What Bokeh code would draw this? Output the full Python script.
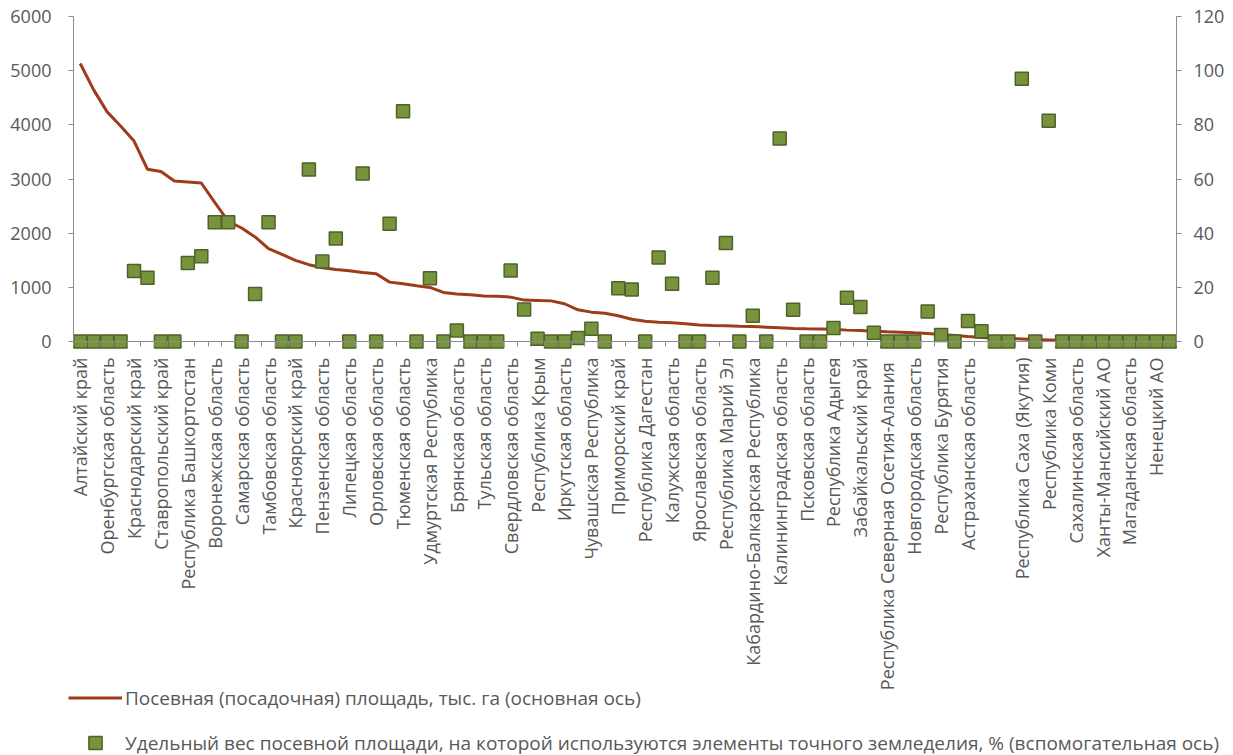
import math
from bokeh.plotting import figure
from bokeh.models import Range1d, LinearAxis, FixedTicker, Legend, LegendItem
from bokeh.embed import file_html
from bokeh.resources import INLINE

# Every other category label (as shown on the axis); hidden ones are not displayed
label_names = [
    "Алтайский край", "Оренбургская область", "Краснодарский край", "Ставропольский край",
    "Республика Башкортостан", "Воронежская область", "Самарская область", "Тамбовская область",
    "Красноярский край", "Пензенская область", "Липецкая область", "Орловская область",
    "Тюменская область", "Удмуртская Республика", "Брянская область", "Тульская область",
    "Свердловская область", "Республика Крым", "Иркутская область", "Чувашская Республика",
    "Приморский край", "Республика Дагестан", "Калужская область", "Ярославская область",
    "Республика Марий Эл", "Кабардино-Балкарская Республика", "Калининградская область",
    "Псковская область", "Республика Адыгея", "Забайкальский край",
    "Республика Северная  Осетия-Алания", "Новгородская область", "Республика Бурятия",
    "Астраханская область", "", "Республика Саха (Якутия)", "Республика Коми",
    "Сахалинская область", "Ханты-Мансийский АО", "Магаданская область", "Ненецкий АО",
]

# Посевная (посадочная) площадь, тыс. га
area = [
    5133, 4645, 4239, 3980, 3700, 3180, 3140, 2963, 2945, 2926,
    2570, 2220, 2095, 1930, 1715, 1608, 1497, 1418, 1362, 1331,
    1306, 1275, 1251, 1096, 1066, 1029, 998, 906, 875, 863,
    838, 836, 819, 764, 758, 750, 697, 586, 542, 523,
    475, 412, 375, 357, 345, 327, 305, 296, 290, 283,
    277, 265, 253, 240, 234, 232, 228, 210, 203, 191,
    179, 173, 160, 148, 129, 111, 92, 74, 62, 55,
    48, 38, 30, 22, 15, 10, 6, 4, 2, 1,
    0.5, 0.2,
]

# Удельный вес посевной площади с элементами точного земледелия, %
share = [
    0, 0, 0, 0, 26, 23.5, 0, 0, 29, 31.5,
    44, 44, 0, 17.5, 44, 0, 0, 63.5, 29.5, 38,
    0, 62, 0, 43.5, 85, 0, 23.4, 0, 4.1, 0,
    0, 0, 26.2, 11.8, 1.0, 0, 0, 1.3, 4.7, 0,
    19.7, 19.2, 0, 31, 21.3, 0, 0, 23.5, 36.4, 0,
    9.5, 0, 75, 11.7, 0, 0, 5, 16.2, 12.7, 3.2,
    0, 0, 0, 11.1, 2.4, 0, 7.6, 3.8, 0, 0,
    97, 0, 81.5, 0, 0, 0, 0, 0, 0, 0,
    0, 0,
]

y_ticks = [0, 1000, 2000, 3000, 4000, 5000, 6000]
pct_ticks = [0, 20, 40, 60, 80, 100, 120]

line_label = "Посевная (посадочная) площадь, тыс. га (основная ось)"
marker_label = ("Удельный вес посевной площади, на которой используются элементы "
                "точного земледелия, % (вспомогательная ось)")

n = len(area)
xs = list(range(n))

FONT = "Open Sans"
TXT = "#595959"
AX = "#8C8C8C"
FS = "18px"

W, H = 1233, 755
LEFT, RIGHT = 73, 1176   # pixel columns of the two value axes
TOP, ZERO = 16, 341      # pixel rows of the top gridline and of the zero line

px_per_cat = (RIGHT - LEFT) / n
x_low = -0.5 - LEFT / px_per_cat
x_high = n - 0.5 + (W - RIGHT) / px_per_cat
px_per_unit = (ZERO - TOP) / 6000.0
y_low = -(H - ZERO) / px_per_unit
y_high = 6000 + TOP / px_per_unit

p = figure(width=W, height=H, output_backend="svg", toolbar_location=None,
           x_range=Range1d(x_low, x_high), y_range=Range1d(y_low, y_high),
           min_border=0, min_border_left=0, min_border_right=0,
           min_border_top=0, min_border_bottom=0)
p.extra_y_ranges = {"pct": Range1d(y_low * 120 / 6000, y_high * 120 / 6000)}
p.outline_line_color = None
p.xgrid.visible = False
p.ygrid.visible = False
p.background_fill_color = "white"
p.border_fill_color = "white"

xa = p.xaxis[0]
xa.ticker = FixedTicker(ticks=list(range(0, n, 2)),
                        minor_ticks=[i - 0.5 for i in range(n + 1)])
xa.major_label_overrides = {i: label_names[i // 2] for i in range(0, n, 2)}
xa.major_label_orientation = math.pi / 2
xa.fixed_location = 0
xa.bounds = (-0.5, n - 0.5)
xa.major_tick_line_color = None
xa.major_tick_in = 0
xa.major_tick_out = 0
xa.minor_tick_in = 0
xa.minor_tick_out = 5
xa.minor_tick_line_color = AX
xa.axis_line_color = AX
xa.major_label_standoff = 11
xa.major_label_text_font = FONT
xa.major_label_text_font_size = FS
xa.major_label_text_color = TXT

ya = p.yaxis[0]
ya.ticker = FixedTicker(ticks=y_ticks)
ya.bounds = (0, 6000)
ya.fixed_location = -0.5
ya.major_tick_in = 0
ya.major_tick_out = 5
ya.minor_tick_line_color = None
ya.major_tick_line_color = AX
ya.axis_line_color = AX
ya.major_label_standoff = 17
ya.major_label_text_font = FONT
ya.major_label_text_font_size = FS
ya.major_label_text_color = TXT

ra = LinearAxis(y_range_name="pct", ticker=FixedTicker(ticks=pct_ticks), bounds=(0, 120))
ra.fixed_location = n - 0.5
ra.major_tick_in = 0
ra.major_tick_out = 5
ra.minor_tick_line_color = None
ra.major_tick_line_color = AX
ra.axis_line_color = AX
ra.major_label_standoff = 12
ra.major_label_text_font = FONT
ra.major_label_text_font_size = FS
ra.major_label_text_color = TXT
p.add_layout(ra, "right")

r1 = p.line(xs, area, line_color="#9E3B1B", line_width=3)
r2 = p.scatter(xs, share, y_range_name="pct", marker="square", size=13,
               fill_color="#77933C", line_color="#4F6228", line_width=1.5)

legend = Legend(items=[LegendItem(label=line_label, renderers=[r1]),
                       LegendItem(label=marker_label, renderers=[r2])],
                location=(68, -4), orientation="vertical",
                glyph_width=54, glyph_height=33, label_height=33, spacing=12,
                padding=0, margin=0, label_standoff=3,
                label_text_font=FONT, label_text_font_size="19px",
                label_text_color=TXT, background_fill_alpha=0, border_line_alpha=0)
p.add_layout(legend, "center")

open("out.html", "w").write(file_html(p, INLINE))
